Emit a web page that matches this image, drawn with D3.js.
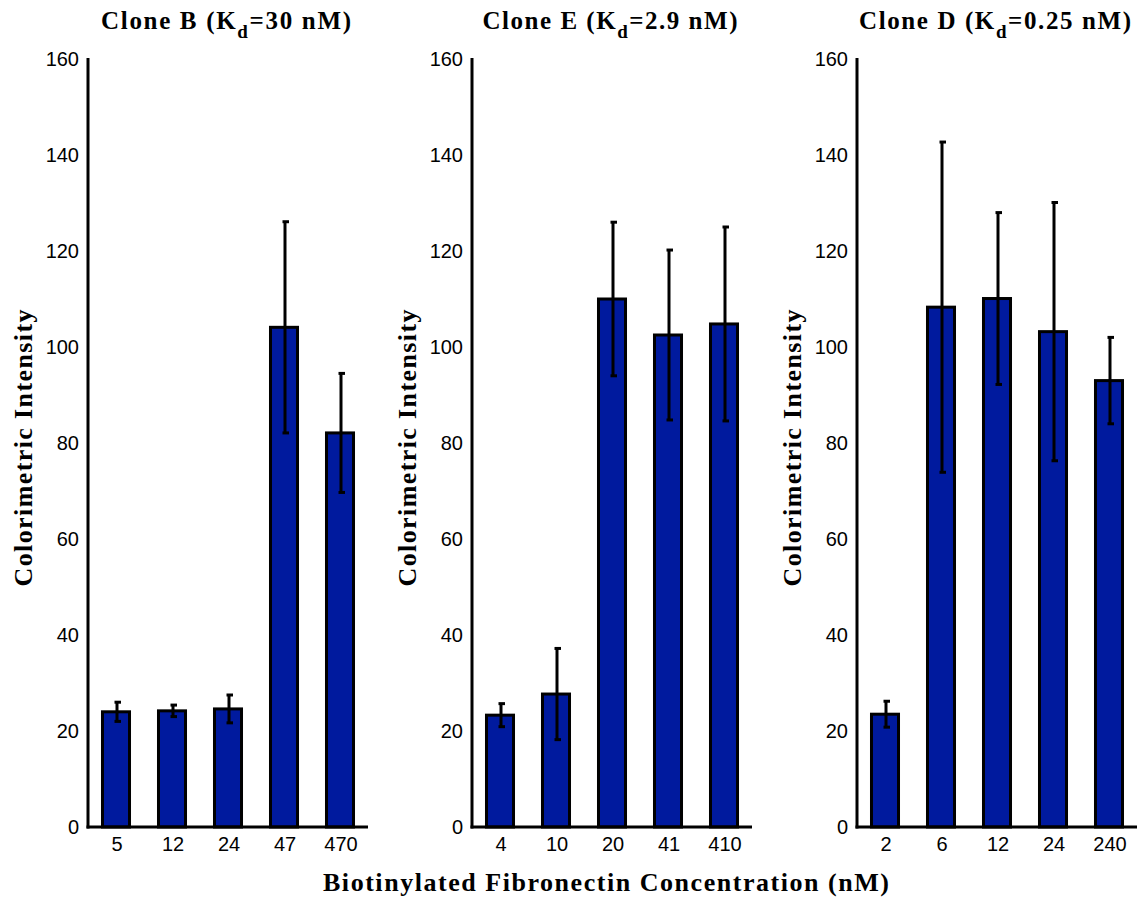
<!DOCTYPE html>
<html>
<head>
<meta charset="utf-8">
<script src="https://cdn.jsdelivr.net/npm/d3@7"></script>
<style>
  html, body { margin: 0; padding: 0; background: #fff; }
  svg { display: block; }
  .tick-label { font-family: "Liberation Sans Narrow", "Liberation Sans", Arial, sans-serif; font-size: 20px; fill: #000; }
  .title, .axis-title { font-family: "Liberation Serif", "Times New Roman", serif; font-weight: bold; fill: #000; }
</style>
</head>
<body>
<svg id="chart" width="1140" height="899"></svg>
<script>
// Colorimetric intensity vs. biotinylated fibronectin concentration, three clones
const cloneNames = ["Clone B", "Clone E", "Clone D"];
const kdLabels = ["30 nM", "2.9 nM", "0.25 nM"];

const concB = ["5", "12", "24", "47", "470"];
const concE = ["4", "10", "20", "41", "410"];
const concD = ["2", "6", "12", "24", "240"];

const meanB = [24.0, 24.2, 24.6, 104.1, 82.1];
const errB  = [2.0, 1.2, 2.9, 22.0, 12.4];

const meanE = [23.3, 27.7, 110.0, 102.5, 104.8];
const errE  = [2.4, 9.5, 16.0, 17.7, 20.2];

const meanD = [23.5, 108.3, 110.1, 103.2, 93.0];
const errD  = [2.7, 34.4, 17.9, 26.9, 9.0];

const yTicks = [0, 20, 40, 60, 80, 100, 120, 140, 160];

const panels = [
  { name: cloneNames[0], kd: kdLabels[0], cats: concB, mean: meanB, err: errB, titleLen: 250 },
  { name: cloneNames[1], kd: kdLabels[1], cats: concE, mean: meanE, err: errE, titleLen: 255 },
  { name: cloneNames[2], kd: kdLabels[2], cats: concD, mean: meanD, err: errD, titleLen: 272 }
];

const svg = d3.select("#chart");
const barColor = "#001a9e";
const panelLeft = [88, 472, 857];
const plotW = 280;
const yTop = 59, yBase = 827;

const y = d3.scaleLinear().domain([0, 160]).range([yBase, yTop]);

panels.forEach((p, i) => {
  const g = svg.append("g").attr("transform", `translate(${panelLeft[i]},0)`);
  const x = d3.scaleBand().domain(p.cats).range([0, plotW])
    .paddingInner(0.464).paddingOuter(0.232);

  // bars
  g.selectAll("rect.bar").data(p.cats).enter().append("rect")
    .attr("class", "bar")
    .attr("x", d => x(d) + 1.5)
    .attr("width", x.bandwidth() - 3)
    .attr("y", (d, j) => y(p.mean[j]))
    .attr("height", (d, j) => y(0) - y(p.mean[j]))
    .attr("fill", barColor)
    .attr("stroke", "#000")
    .attr("stroke-width", 3);

  // error bars
  const eb = g.selectAll("g.err").data(p.cats).enter().append("g").attr("class", "err");
  const cx = d => x(d) + x.bandwidth() / 2 + 1;
  eb.append("line")
    .attr("x1", cx).attr("x2", cx)
    .attr("y1", (d, j) => y(p.mean[j] + p.err[j]))
    .attr("y2", (d, j) => y(p.mean[j] - p.err[j]))
    .attr("stroke", "#000").attr("stroke-width", 3);
  [1, -1].forEach(sgn => {
    eb.append("line")
      .attr("x1", d => cx(d) - 2.5).attr("x2", d => cx(d) + 4)
      .attr("y1", (d, j) => y(p.mean[j] + sgn * p.err[j]))
      .attr("y2", (d, j) => y(p.mean[j] + sgn * p.err[j]))
      .attr("stroke", "#000").attr("stroke-width", 3);
  });

  // y axis
  const yAxis = d3.axisLeft(y).tickValues(yTicks).tickSize(0).tickPadding(9);
  const ya = g.append("g").call(yAxis);
  ya.select(".domain").remove();
  ya.selectAll("text").attr("class", "tick-label").attr("font-family", null).attr("font-size", null);
  g.append("line").attr("x1", 0).attr("x2", 0).attr("y1", yTop - 1).attr("y2", yBase + 1.5)
    .attr("stroke", "#000").attr("stroke-width", 3);

  // x axis
  const xAxis = d3.axisBottom(x).tickSize(0).tickPadding(10);
  const xa = g.append("g").attr("transform", `translate(0,${yBase})`).call(xAxis);
  xa.select(".domain").remove();
  xa.selectAll("text").attr("class", "tick-label").attr("font-family", null).attr("font-size", null)
    .attr("dx", 1);
  g.append("line").attr("x1", -1.5).attr("x2", plotW).attr("y1", yBase).attr("y2", yBase)
    .attr("stroke", "#000").attr("stroke-width", 3);

  // panel title with subscript
  const t = g.append("text").attr("class", "title")
    .attr("x", 138).attr("y", 29).attr("text-anchor", "middle")
    .attr("font-size", 25)
    .attr("textLength", p.titleLen).attr("lengthAdjust", "spacing");
  t.append("tspan").text(p.name + " (K");
  t.append("tspan").attr("dy", 9).attr("font-size", 19).text("d");
  t.append("tspan").attr("dy", -9).text("=" + p.kd + ")");

  // y axis title
  g.append("text").attr("class", "axis-title")
    .attr("transform", `translate(-56,448) rotate(-90)`)
    .attr("text-anchor", "middle").attr("font-size", 26)
    .attr("textLength", 277).attr("lengthAdjust", "spacing")
    .text("Colorimetric Intensity");
});

// shared x axis title
svg.append("text").attr("class", "axis-title")
  .attr("x", 606).attr("y", 891).attr("text-anchor", "middle")
  .attr("font-size", 26)
  .attr("textLength", 566).attr("lengthAdjust", "spacing")
  .text("Biotinylated Fibronectin Concentration (nM)");
</script>
</body>
</html>
